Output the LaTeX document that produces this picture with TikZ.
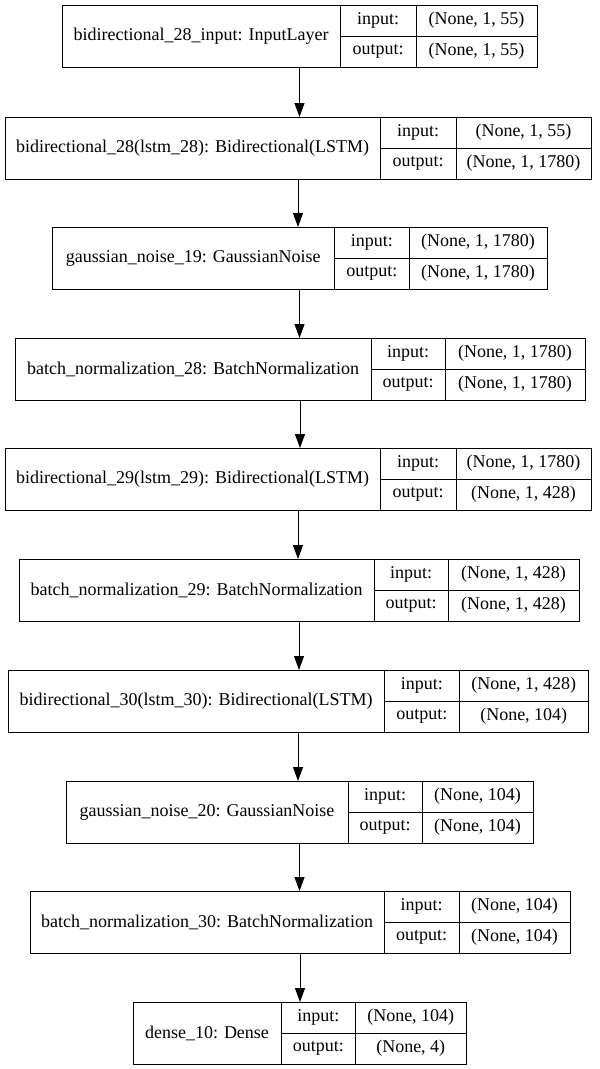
\documentclass[tikz,border=0pt]{standalone}
\usepackage{fontspec}
\setmainfont{Liberation Serif}
\usetikzlibrary{positioning,arrows.meta}

\tikzset{
  cell/.style={draw, line width=1pt, inner sep=1pt, outer sep=0pt, font=\fontsize{18}{20}\selectfont},
  layerframe/.style={inner sep=0pt, outer sep=0pt, minimum height=62pt},
  flow/.style={-{Triangle[length=14pt,width=10pt]}, line width=1pt},
}

% #1 名字 #2 上边 #3 左边 #4 第一条竖线 #5 第二条竖线 #6 右边 #7 层名 #8 input #9 output
\newcommand{\kerasbox}[9]{%
  \node[layerframe, minimum width={#6-#3}, anchor=north west] (#1) at (#3,#2) {};
  \node[cell, minimum width={#4-#3}, minimum height=62pt, anchor=north west] (#1n) at (#3,#2) {#7};
  \node[cell, minimum width={#5-#4}, minimum height=31pt, below right=0pt and 0pt of #1n.north east] (#1i) {input:};
  \node[cell, minimum width={#5-#4}, minimum height=31pt, below=0pt of #1i] (#1o) {output:};
  \node[cell, minimum width={#6-#5}, minimum height=31pt, right=0pt of #1i] (#1iv) {#8};
  \node[cell, minimum width={#6-#5}, minimum height=31pt, right=0pt of #1o] (#1ov) {#9};
}

\begin{document}
\begin{tikzpicture}[x=1pt,y=-1pt]
  \useasboundingbox (0,0) rectangle (600,1069);
  % 各层
  \kerasbox{L1}{5}{62}{340}{416}{537}{bidirectional\_28\_input: InputLayer}{(None, 1, 55)}{(None, 1, 55)}
  \kerasbox{L2}{117}{5}{380}{456}{591}{bidirectional\_28(lstm\_28): Bidirectional(LSTM)}{(None, 1, 55)}{(None, 1, 1780)}
  \kerasbox{L3}{227}{52}{334.5}{409}{547}{gaussian\_noise\_19: GaussianNoise}{(None, 1, 1780)}{(None, 1, 1780)}
  \kerasbox{L4}{338}{15}{371}{445}{585}{batch\_normalization\_28: BatchNormalization}{(None, 1, 1780)}{(None, 1, 1780)}
  \kerasbox{L5}{448}{5}{380}{456}{591}{bidirectional\_29(lstm\_29): Bidirectional(LSTM)}{(None, 1, 1780)}{(None, 1, 428)}
  \kerasbox{L6}{559}{19}{374}{448}{579}{batch\_normalization\_29: BatchNormalization}{(None, 1, 428)}{(None, 1, 428)}
  \kerasbox{L7}{670}{8}{384}{459.5}{588}{bidirectional\_30(lstm\_30): Bidirectional(LSTM)}{(None, 1, 428)}{(None, 104)}
  \kerasbox{L8}{781}{66}{348}{422}{533}{gaussian\_noise\_20: GaussianNoise}{(None, 104)}{(None, 104)}
  \kerasbox{L9}{891}{30}{384}{459}{570}{batch\_normalization\_30: BatchNormalization}{(None, 104)}{(None, 104)}
  \kerasbox{L10}{1002}{133}{281}{355.5}{466}{dense\_10: Dense}{(None, 104)}{(None, 4)}
  % 连线
  \draw[flow] (L1.south) -- (L1.south |- L2.north);
  \draw[flow] (L2.south) -- (L2.south |- L3.north);
  \draw[flow] (L3.south) -- (L3.south |- L4.north);
  \draw[flow] (L4.south) -- (L4.south |- L5.north);
  \draw[flow] (L5.south) -- (L5.south |- L6.north);
  \draw[flow] (L6.south) -- (L6.south |- L7.north);
  \draw[flow] (L7.south) -- (L7.south |- L8.north);
  \draw[flow] (L8.south) -- (L8.south |- L9.north);
  \draw[flow] (L9.south) -- (L9.south |- L10.north);
\end{tikzpicture}
\end{document}
